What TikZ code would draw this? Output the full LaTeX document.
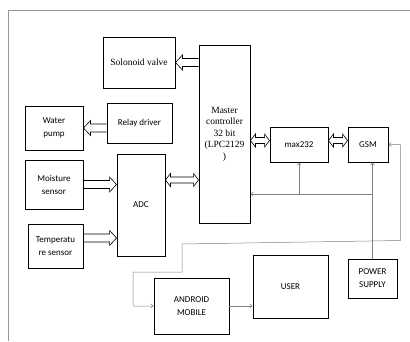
\documentclass[tikz,border=0pt]{standalone}
\usepackage{fontspec}
\setmainfont{Liberation Serif}
\newfontfamily\calibri{Carlito}
\usetikzlibrary{arrows.meta,positioning,calc}
\tikzstyle{block} = [rectangle, draw=black, line width=0.9pt, align=center, inner sep=1pt, font=\calibri\fontsize{9}{13}\selectfont]
\tikzstyle{serifblock} = [block, font=\fontsize{9.5}{11.5}\selectfont]
\tikzstyle{bus} = [draw, line width=0.6pt, to path={let \p1=(\tikztostart), \p2=(\tikztotarget), \n1={(\x2-\x1)/abs(\x2-\x1)} in
  (\x1,\y1+4pt) -- ({\x2-\n1*7pt},\y1+4pt) -- ({\x2-\n1*7pt},\y1+7.5pt) -- (\x2,\y1)
  -- ({\x2-\n1*7pt},\y1-7.5pt) -- ({\x2-\n1*7pt},\y1-4pt) -- (\x1,\y1-4pt)}]
\tikzstyle{busboth} = [draw, line width=0.6pt, to path={let \p1=(\tikztostart), \p2=(\tikztotarget), \n1={(\x2-\x1)/abs(\x2-\x1)} in
  (\x1,\y1) -- ({\x1+\n1*5pt},\y1+6.5pt) -- ({\x1+\n1*5pt},\y1+3pt) -- ({\x2-\n1*5pt},\y1+3pt) -- ({\x2-\n1*5pt},\y1+6.5pt) -- (\x2,\y1)
  -- ({\x2-\n1*5pt},\y1-6.5pt) -- ({\x2-\n1*5pt},\y1-3pt) -- ({\x1+\n1*5pt},\y1-3pt) -- ({\x1+\n1*5pt},\y1-6.5pt) -- cycle}]
\tikzstyle{link} = [gray, line width=0.5pt, -{Straight Barb[length=2.5pt,width=4pt]}]

\begin{document}
\begin{tikzpicture}[x=1pt, y=-1pt]
\useasboundingbox (0,0) rectangle (410,341);

% RAHMEN
\draw [gray!80, line width=0.6pt] (8,341) -- (8,10) -- (410,10);

% STEUERUNG
\node (valve) [serifblock, minimum width=72pt, minimum height=51pt] at (139,62.5) {Solonoid valve};
\node (master) [serifblock, minimum width=51pt, minimum height=178pt] at (224.5,134) {Master\\controller\\32 bit\\(LPC2129\\)};
\node (relay) [block, minimum width=65pt, minimum height=40pt] at (139.5,123) {Relay driver};
\node (pump) [block, minimum width=58pt, minimum height=44pt] at (54,128) {Water\\pump};

% SENSOREN
\node (adc) [block, minimum width=48pt, minimum height=102pt] at (141,205) {ADC};
\node (moisture) [block, minimum width=58pt, minimum height=49pt] at (54,184.5) {Moisture\\sensor};
\node (temp) [block, minimum width=55pt, minimum height=44pt] at (55.5,246) {Temperatu\\re sensor};

% KOMMUNIKATION
\node (max) [block, minimum width=58pt, minimum height=35pt] at (299,144.5) {max232};
\node (gsm) [block, minimum width=40pt, minimum height=35pt] at (368,144.5) {GSM};
\node (power) [block, minimum width=49pt, minimum height=39pt] at (372.5,278.5) {POWER\\SUPPLY};
\node (android) [block, minimum width=75pt, minimum height=56pt] at (191.5,306) {ANDROID\\MOBILE};
\node (user) [block, minimum width=75pt, minimum height=63pt] at (290.5,286.5) {USER};

% BUS-PFEILE
\draw [bus] (master.west |- valve.east) to (valve.east);
\draw [bus] (relay.west |- pump.east) to (pump.east);
\draw [bus] (moisture.east) to (moisture.east -| adc.west);
\coordinate (tempbus) at ([yshift=8pt]temp.east);
\draw [bus] (tempbus) to (tempbus -| adc.west);
\coordinate (adcbus) at ([yshift=25pt]adc.east);
\draw [busboth] (adcbus) to (adcbus -| master.west);
\coordinate (maxbus) at ([yshift=4pt]max.west);
\draw [busboth] (maxbus -| master.east) to (maxbus);
\draw [busboth] (maxbus -| max.east) to (maxbus -| gsm.west);

% VERSORGUNG
\coordinate (junc) at (372.5,194);
\draw [link] (power.north) -- (power.north |- gsm.south);
\draw [link] (junc) -- (junc -| master.east);
\draw [link] (junc -| max.south) -- (max.south);

% GSM - ANDROID
\draw [link, {Straight Barb[length=2.5pt,width=4pt]}-{Straight Barb[length=2.5pt,width=4pt]}] (gsm.east) -- ++(12,0) -- ++(0,96) -- (182,244) -- (182,272) -- (133,272) |- (android.west);
\draw [link] (android.east) -- (android.east -| user.west);

\end{tikzpicture}
\end{document}
